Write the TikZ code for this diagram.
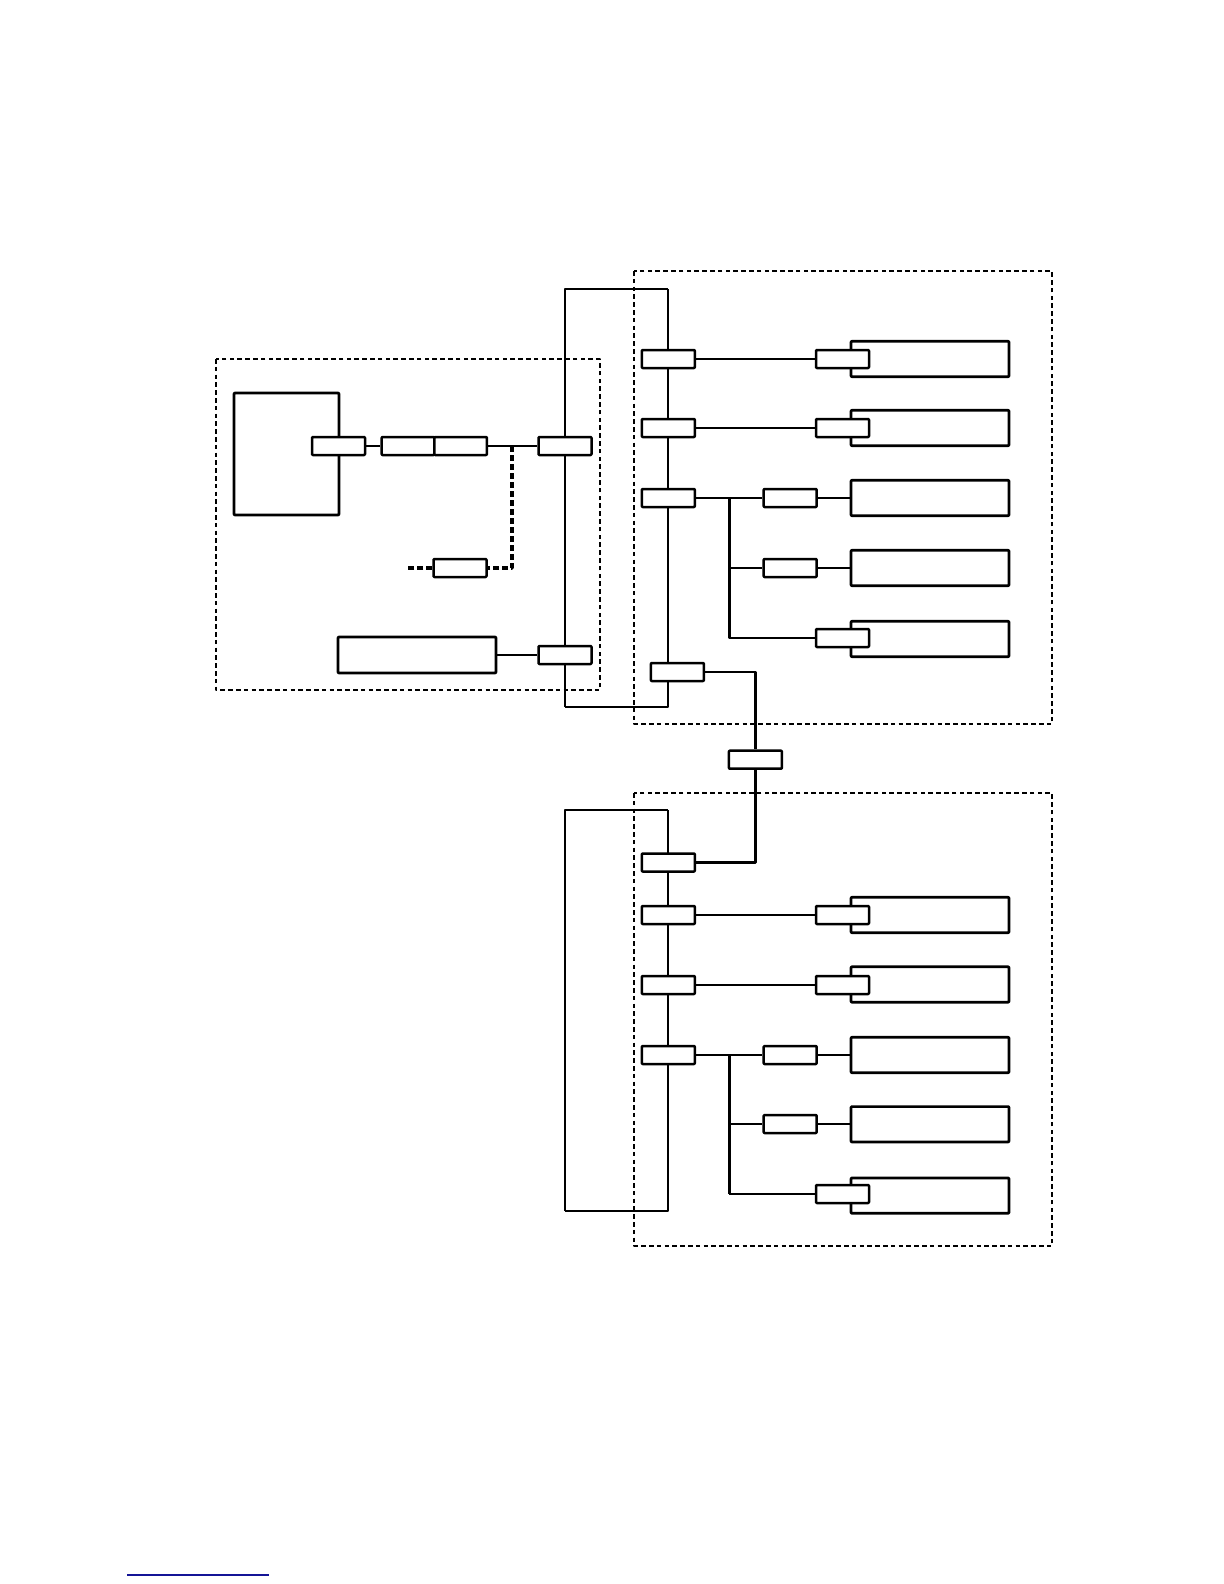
\documentclass[tikz,border=0pt]{standalone}
\definecolor{linkblue}{RGB}{20,20,150}
\begin{document}
\begin{tikzpicture}[x=0.5pt,y=-0.5pt, line join=round,
  sbox/.style={draw, fill=white, line width=1.25pt, inner sep=0pt, minimum width=26.5pt, minimum height=9pt, rounded corners=0.4pt},
  lbox/.style={draw, fill=white, line width=1.35pt, inner sep=0pt, minimum width=79pt, minimum height=17.7pt, rounded corners=0.4pt},
  grp/.style={draw, line width=1.1pt, dash pattern=on 2.3pt off 1.6pt},
  thin/.style={line width=0.85pt},
  thk/.style={line width=1.35pt},
  loopl/.style={line width=1pt},
  optl/.style={line width=1.8pt, dash pattern=on 3pt off 1.5pt}]
\useasboundingbox (0,0) rectangle (1224,1584);

% ---------- group boxes ----------
\draw[grp] (216,359) rectangle (600,690);
\draw[grp] (634,271) rectangle (1052,724);
\draw[grp] (634,793) rectangle (1052,1246);

% ---------- upper loop ----------
\coordinate (ul1) at (565,289);
\coordinate (ul2) at (668,289);
\coordinate (ul3) at (668,707);
\coordinate (ul4) at (565,707);
\draw[loopl] (ul4) -- (ul1) -- (ul2);
\draw[thk] (ul2) -- (ul3) -- (ul4);

% ---------- lower loop ----------
\coordinate (ll1) at (565,810);
\coordinate (ll2) at (668,810);
\coordinate (ll3) at (668,1211);
\coordinate (ll4) at (565,1211);
\draw[loopl] (ll4) -- (ll1) -- (ll2);
\draw[thk] (ll2) -- (ll3) -- (ll4);

% ---------- left group ----------
\node[draw, line width=1.35pt, minimum width=52.5pt, minimum height=61pt, inner sep=0pt, rounded corners=0.4pt] (A) at (286.5,454) {};
\node[sbox] (a1) at (338.5,446) {};
\node[sbox, minimum width=26.3pt] (a2) at (408,446) {};
\node[sbox, minimum width=26.3pt] (a3) at (460.6,446) {};
\node[sbox] (a4) at (565,446) {};
\node[sbox] (a5) at (460,568) {};
\node[lbox, minimum height=18pt] (B) at (417,655) {};
\node[sbox] (a6) at (565,655) {};
\draw[thin] (a1.east) -- (a2.west);
\draw[thin] (a3.east) -- (a4.west);
\coordinate (tap) at (512,446);
\coordinate (tapd) at (512,568);
\coordinate (optend) at (406,568);
\draw[optl] (tap) -- (tapd) -- (a5.east);
\draw[optl] (a5.west) -- (optend);
\draw[thin] (B.east) -- (B.east -| a6.west);

% ---------- upper right group ----------
\foreach \n/\y in {1/359,2/428,3/498}{
  \node[sbox] (ub\n) at (668.3,\y) {};
}
\node[sbox] (ub4) at (677.4,672) {};
\node[lbox] (uL1) at (930,359) {};
\node[lbox] (uL2) at (930,428) {};
\node[lbox] (uL3) at (930,498) {};
\node[lbox] (uL4) at (930,568) {};
\node[lbox] (uL5) at (930,639) {};
\node[sbox] (ur1) at (842.5,359) {};
\node[sbox] (ur2) at (842.5,428) {};
\node[sbox] (ur5) at (842.5,638) {};
\node[sbox] (um3) at (790.2,498) {};
\node[sbox] (um4) at (790.2,568) {};
\draw[thin] (ub1.east) -- (ur1.west);
\draw[thk] (ub2.east) -- (ur2.west);
\draw[thin] (ub3.east) -- (um3.west);
\draw[thin] (um3.east) -- (um3.east -| uL3.west);
\coordinate (ubr1) at (729.3,498);
\coordinate (ubr2) at (729.3,568);
\coordinate (ubr3) at (729.3,638);
\draw[thk] (ubr1) -- (ubr3) -- (ur5.west);
\draw[thin] (ubr2) -- (um4.west);
\draw[thin] (um4.east) -- (um4.east -| uL4.west);

% ---------- link between groups ----------
\node[sbox] (lk) at (755.4,759.7) {};
\coordinate (lkt) at (755.4,672);
\coordinate (lkb) at (755.4,862.5);
\draw[thk] (ub4.east) -- (lkt) -- (lk.north);

% ---------- lower right group ----------
\foreach \n/\y in {1/862.5,2/915,3/985,4/1055}{
  \node[sbox] (lb\n) at (668.3,\y) {};
}
\draw[thk] (lk.south) -- (lkb) -- (lb1.east);
\node[lbox] (lL1) at (930,915) {};
\node[lbox] (lL2) at (930,984.5) {};
\node[lbox] (lL3) at (930,1055) {};
\node[lbox] (lL4) at (930,1124.3) {};
\node[lbox] (lL5) at (930,1195.6) {};
\node[sbox] (lr1) at (842.5,915) {};
\node[sbox] (lr2) at (842.5,985) {};
\node[sbox] (lr5) at (842.5,1194) {};
\node[sbox] (lm3) at (790.2,1055) {};
\node[sbox] (lm4) at (790.2,1124) {};
\draw[thk] (lb2.east) -- (lr1.west);
\draw[thin] (lb3.east) -- (lr2.west);
\draw[thk] (lb4.east) -- (lm3.west);
\draw[thk] (lm3.east) -- (lm3.east -| lL3.west);
\coordinate (lbr1) at (729.3,1055);
\coordinate (lbr2) at (729.3,1124);
\coordinate (lbr3) at (729.3,1194);
\draw[thk] (lbr1) -- (lbr3);
\draw[thin] (lbr3) -- (lr5.west);
\draw[thk] (lbr2) -- (lm4.west);
\draw[thk] (lm4.east) -- (lm4.east -| lL4.west);

% ---------- footer rule ----------
\coordinate (fr1) at (127,1575);
\coordinate (fr2) at (269,1575);
\draw[linkblue, line width=0.6pt] (fr1) -- (fr2);
\end{tikzpicture}
\end{document}
